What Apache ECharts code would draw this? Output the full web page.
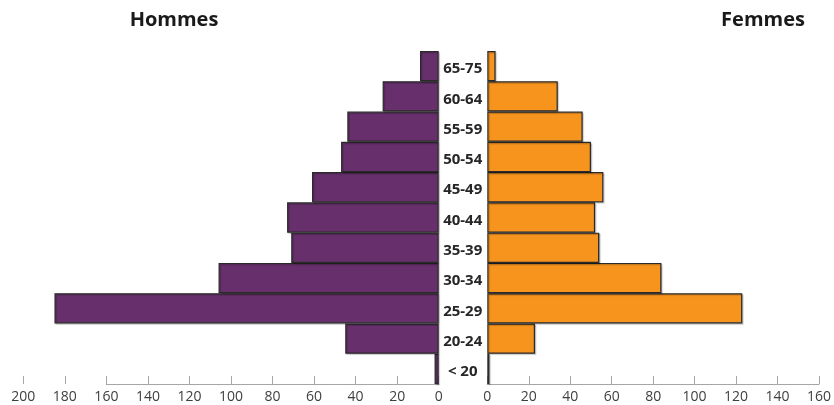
<!DOCTYPE html>
<html>
<head>
<meta charset="utf-8">
<script src="https://cdn.jsdelivr.net/npm/echarts@6/dist/echarts.min.js"></script>
<style>
html,body{margin:0;padding:0;background:#fff;}
#chart{width:834px;height:405px;}
</style>
</head>
<body>
<div id="chart"></div>
<script>
const categories = ['< 20','20-24','25-29','30-34','35-39','40-44','45-49','50-54','55-59','60-64','65-75'];
const hommes = [2, 45, 185, 106, 71, 73, 61, 47, 44, 27, 9];
const femmes = [1, 23, 123, 84, 54, 52, 56, 50, 46, 34, 4];
const titles = ['Hommes', 'Femmes'];

const FONT = '"Open Sans", "Noto Sans", sans-serif';
const chart = echarts.init(document.getElementById('chart'), null, {renderer: 'canvas'});

const barStyle = (color) => ({
  color: color,
  borderColor: '#2a2a2a',
  borderWidth: 1.2,
  shadowColor: 'rgba(0,0,0,0.22)',
  shadowBlur: 1,
  shadowOffsetX: 1.2,
  shadowOffsetY: 1.2
});

const tickAxis = (max, inverse, showLine) => ({
  type: 'value',
  min: 0, max: max, interval: 20,
  inverse: inverse,
  position: 'bottom',
  splitLine: {show: false},
  axisLine: {show: showLine, lineStyle: {color: '#a6a6a6', width: 1.2}},
  axisTick: {show: true, inside: true, length: 8, lineStyle: {color: '#a6a6a6', width: 1}},
  axisLabel: {color: '#404040', fontSize: 14, fontFamily: FONT, margin: 6}
});

chart.setOption({
  animation: false,
  title: [
    {text: titles[0], left: 169, top: 5, textAlign: 'center',
     textStyle: {fontFamily: FONT, fontWeight: 'bold', fontSize: 20, color: '#1a1a1a'}},
    {text: titles[1], left: 758, top: 5, textAlign: 'center',
     textStyle: {fontFamily: FONT, fontWeight: 'bold', fontSize: 20, color: '#1a1a1a'}}
  ],
  grid: [
    {left: 23.3, top: 51, width: 415.4, height: 333},
    {left: 487.3, top: 51, width: 332.7, height: 333},
    {left: 106.4, top: 51, width: 332.3, height: 333}
  ],
  xAxis: [
    Object.assign(tickAxis(200, true, false), {gridIndex: 0}),
    Object.assign(tickAxis(160, false, true), {gridIndex: 1}),
    {gridIndex: 2, type: 'value', min: 0, max: 160, inverse: true, position: 'bottom',
     splitLine: {show: false}, axisTick: {show: false}, axisLabel: {show: false},
     axisLine: {show: true, lineStyle: {color: '#a6a6a6', width: 1.2}}}
  ],
  yAxis: [
    {gridIndex: 0, type: 'category', data: categories, position: 'right',
     axisLine: {show: false}, axisTick: {show: false},
     axisLabel: {show: true, align: 'center', margin: 24,
                 formatter: '{a|{value}}',
                 rich: {a: {padding: [6, 0, 0, 0], fontFamily: FONT, fontWeight: 'bold',
                            fontSize: 15, color: '#262626'}},
                 fontFamily: FONT, fontWeight: 'bold', fontSize: 15, color: '#262626'}},
    {gridIndex: 1, type: 'category', data: categories,
     axisLine: {show: false}, axisTick: {show: false}, axisLabel: {show: false}},
    {gridIndex: 2, type: 'category', data: categories, show: false}
  ],
  series: [
    {name: titles[0], type: 'bar', xAxisIndex: 0, yAxisIndex: 0, data: hommes,
     barCategoryGap: '0%', itemStyle: barStyle('#67306c')},
    {name: titles[1], type: 'bar', xAxisIndex: 1, yAxisIndex: 1, data: femmes,
     barCategoryGap: '0%', itemStyle: barStyle('#f7941e')}
  ]
});
</script>
</body>
</html>
